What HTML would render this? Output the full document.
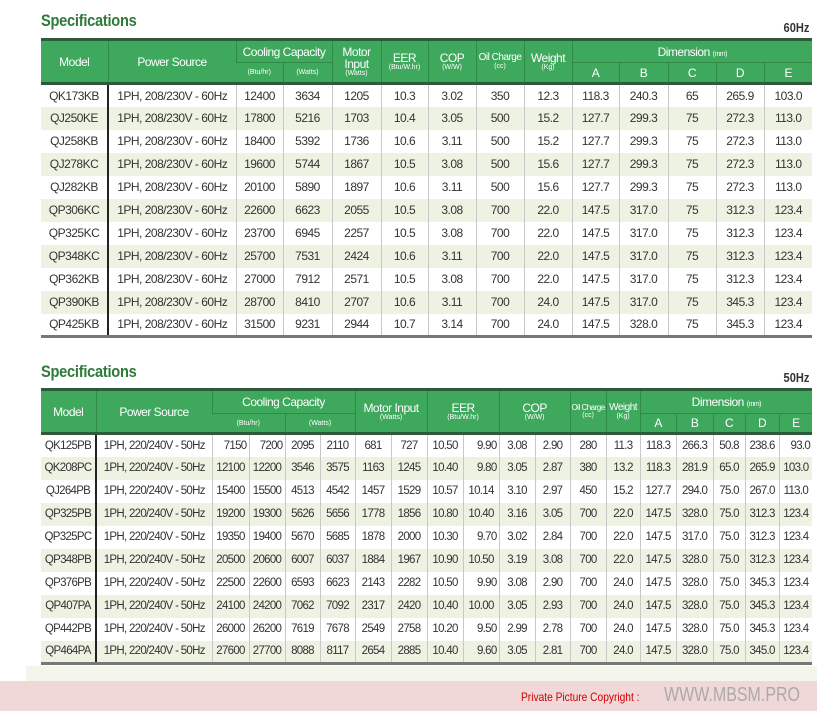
<!DOCTYPE html>
<html><head><meta charset="utf-8"><style>
*{margin:0;padding:0;box-sizing:border-box}
body{width:817px;height:711px;background:#fff;position:relative;overflow:hidden;font-family:"Liberation Sans",sans-serif;color:#333}
.title{position:absolute;left:41px;font:bold 17px "Liberation Sans",sans-serif;color:#2d7a3a;transform:scaleX(0.86);transform-origin:left top;letter-spacing:-0.3px}
.hz{position:absolute;right:8px;font:bold 13px "Liberation Sans",sans-serif;color:#333;transform:scaleX(0.85);transform-origin:right top}
table{position:absolute;left:41px;border-collapse:collapse;table-layout:fixed;width:771px}
th{background:#3ea85c;color:#fff;font-weight:normal;font-size:12px;letter-spacing:-0.5px;border-left:1px solid #2f8a48;text-align:center;line-height:1.0;white-space:nowrap;overflow:hidden;padding:0}
th small{font-size:7px;display:block;letter-spacing:0}
thead tr:first-child th{border-top:3px solid #2e5a3c}
tbody tr:first-child td{border-top:3px solid #2e5a3c}
td{height:23px;font-size:12px;letter-spacing:-0.5px;text-align:center;border-left:1px solid #c8c8c8;white-space:nowrap;overflow:hidden}
td:first-child,th:first-child{border-left:none}
td:nth-child(2){border-left:2px solid #222}
tbody tr:nth-child(even) td{background:#eef2e2}
tbody tr:last-child td{border-bottom:3px solid #777}
.sub th{border-top:1px solid #2f8a48}
#t2 td{font-size:11.5px;letter-spacing:-0.7px}
#t2 td.r{text-align:right;padding-right:2px}
</style></head><body>
<div class="title" style="top:11px">Specifications</div>
<div class="hz" style="top:20px">60Hz</div>
<table id="t1" style="top:38px">
<colgroup><col style="width:67px"><col style="width:128px"><col style="width:47px"><col style="width:49px"><col style="width:49px"><col style="width:47px"><col style="width:48px"><col style="width:48px"><col style="width:48px"><col style="width:47px"><col style="width:49px"><col style="width:48px"><col style="width:48px"><col style="width:48px"></colgroup>
<thead>
<tr style="height:23px"><th rowspan="2">Model</th><th rowspan="2">Power Source</th><th colspan="2">Cooling Capacity</th><th rowspan="2">Motor<br>Input<small>(Watts)</small></th><th rowspan="2">EER<small>(Btu/W.hr)</small></th><th rowspan="2">COP<small>(W/W)</small></th><th rowspan="2" style="font-size:10px">Oil Charge<small>(cc)</small></th><th rowspan="2">Weight<small>(Kg)</small></th><th colspan="5">Dimension <span style="font-size:7px">(mm)</span></th></tr>
<tr class="sub" style="height:21px"><th><small>(Btu/hr)</small></th><th><small>(Watts)</small></th><th>A</th><th>B</th><th>C</th><th>D</th><th>E</th></tr>
</thead>
<tbody>
<tr><td>QK173KB</td><td>1PH, 208/230V - 60Hz</td><td>12400</td><td>3634</td><td>1205</td><td>10.3</td><td>3.02</td><td>350</td><td>12.3</td><td>118.3</td><td>240.3</td><td>65</td><td>265.9</td><td>103.0</td></tr>
<tr><td>QJ250KE</td><td>1PH, 208/230V - 60Hz</td><td>17800</td><td>5216</td><td>1703</td><td>10.4</td><td>3.05</td><td>500</td><td>15.2</td><td>127.7</td><td>299.3</td><td>75</td><td>272.3</td><td>113.0</td></tr>
<tr><td>QJ258KB</td><td>1PH, 208/230V - 60Hz</td><td>18400</td><td>5392</td><td>1736</td><td>10.6</td><td>3.11</td><td>500</td><td>15.2</td><td>127.7</td><td>299.3</td><td>75</td><td>272.3</td><td>113.0</td></tr>
<tr><td>QJ278KC</td><td>1PH, 208/230V - 60Hz</td><td>19600</td><td>5744</td><td>1867</td><td>10.5</td><td>3.08</td><td>500</td><td>15.6</td><td>127.7</td><td>299.3</td><td>75</td><td>272.3</td><td>113.0</td></tr>
<tr><td>QJ282KB</td><td>1PH, 208/230V - 60Hz</td><td>20100</td><td>5890</td><td>1897</td><td>10.6</td><td>3.11</td><td>500</td><td>15.6</td><td>127.7</td><td>299.3</td><td>75</td><td>272.3</td><td>113.0</td></tr>
<tr><td>QP306KC</td><td>1PH, 208/230V - 60Hz</td><td>22600</td><td>6623</td><td>2055</td><td>10.5</td><td>3.08</td><td>700</td><td>22.0</td><td>147.5</td><td>317.0</td><td>75</td><td>312.3</td><td>123.4</td></tr>
<tr><td>QP325KC</td><td>1PH, 208/230V - 60Hz</td><td>23700</td><td>6945</td><td>2257</td><td>10.5</td><td>3.08</td><td>700</td><td>22.0</td><td>147.5</td><td>317.0</td><td>75</td><td>312.3</td><td>123.4</td></tr>
<tr><td>QP348KC</td><td>1PH, 208/230V - 60Hz</td><td>25700</td><td>7531</td><td>2424</td><td>10.6</td><td>3.11</td><td>700</td><td>22.0</td><td>147.5</td><td>317.0</td><td>75</td><td>312.3</td><td>123.4</td></tr>
<tr><td>QP362KB</td><td>1PH, 208/230V - 60Hz</td><td>27000</td><td>7912</td><td>2571</td><td>10.5</td><td>3.08</td><td>700</td><td>22.0</td><td>147.5</td><td>317.0</td><td>75</td><td>312.3</td><td>123.4</td></tr>
<tr><td>QP390KB</td><td>1PH, 208/230V - 60Hz</td><td>28700</td><td>8410</td><td>2707</td><td>10.6</td><td>3.11</td><td>700</td><td>24.0</td><td>147.5</td><td>317.0</td><td>75</td><td>345.3</td><td>123.4</td></tr>
<tr><td>QP425KB</td><td>1PH, 208/230V - 60Hz</td><td>31500</td><td>9231</td><td>2944</td><td>10.7</td><td>3.14</td><td>700</td><td>24.0</td><td>147.5</td><td>328.0</td><td>75</td><td>345.3</td><td>123.4</td></tr>
</tbody></table>

<div class="title" style="top:362px">Specifications</div>
<div class="hz" style="top:370px">50Hz</div>
<table id="t2" style="top:388px">
<colgroup><col style="width:55px"><col style="width:116px"><col style="width:37px"><col style="width:36px"><col style="width:35px"><col style="width:35px"><col style="width:36px"><col style="width:36px"><col style="width:36px"><col style="width:36px"><col style="width:36px"><col style="width:35px"><col style="width:36px"><col style="width:34px"><col style="width:36px"><col style="width:37px"><col style="width:32px"><col style="width:34px"><col style="width:33px"></colgroup>
<thead>
<tr style="height:24px"><th rowspan="2">Model</th><th rowspan="2">Power Source</th><th colspan="4">Cooling Capacity</th><th colspan="2" rowspan="2">Motor Input<small>(Watts)</small></th><th colspan="2" rowspan="2">EER<small>(Btu/W.hr)</small></th><th colspan="2" rowspan="2">COP<small>(W/W)</small></th><th rowspan="2" style="font-size:8px">Oil Charge<small>(cc)</small></th><th rowspan="2" style="font-size:10px">Weight<small>(Kg)</small></th><th colspan="5">Dimension <span style="font-size:7px">(mm)</span></th></tr>
<tr class="sub" style="height:20px"><th colspan="2"><small>(Btu/hr)</small></th><th colspan="2"><small>(Watts)</small></th><th>A</th><th>B</th><th>C</th><th>D</th><th>E</th></tr>
</thead>
<tbody>
<tr><td>QK125PB</td><td>1PH, 220/240V - 50Hz</td><td class="r">7150</td><td class="r">7200</td><td>2095</td><td>2110</td><td>681</td><td>727</td><td>10.50</td><td class="r">9.90</td><td>3.08</td><td>2.90</td><td>280</td><td>11.3</td><td>118.3</td><td>266.3</td><td>50.8</td><td>238.6</td><td class="r">93.0</td></tr>
<tr><td>QK208PC</td><td>1PH, 220/240V - 50Hz</td><td>12100</td><td>12200</td><td>3546</td><td>3575</td><td>1163</td><td>1245</td><td>10.40</td><td class="r">9.80</td><td>3.05</td><td>2.87</td><td>380</td><td>13.2</td><td>118.3</td><td>281.9</td><td>65.0</td><td>265.9</td><td>103.0</td></tr>
<tr><td>QJ264PB</td><td>1PH, 220/240V - 50Hz</td><td>15400</td><td>15500</td><td>4513</td><td>4542</td><td>1457</td><td>1529</td><td>10.57</td><td>10.14</td><td>3.10</td><td>2.97</td><td>450</td><td>15.2</td><td>127.7</td><td>294.0</td><td>75.0</td><td>267.0</td><td>113.0</td></tr>
<tr><td>QP325PB</td><td>1PH, 220/240V - 50Hz</td><td>19200</td><td>19300</td><td>5626</td><td>5656</td><td>1778</td><td>1856</td><td>10.80</td><td>10.40</td><td>3.16</td><td>3.05</td><td>700</td><td>22.0</td><td>147.5</td><td>328.0</td><td>75.0</td><td>312.3</td><td>123.4</td></tr>
<tr><td>QP325PC</td><td>1PH, 220/240V - 50Hz</td><td>19350</td><td>19400</td><td>5670</td><td>5685</td><td>1878</td><td>2000</td><td>10.30</td><td class="r">9.70</td><td>3.02</td><td>2.84</td><td>700</td><td>22.0</td><td>147.5</td><td>317.0</td><td>75.0</td><td>312.3</td><td>123.4</td></tr>
<tr><td>QP348PB</td><td>1PH, 220/240V - 50Hz</td><td>20500</td><td>20600</td><td>6007</td><td>6037</td><td>1884</td><td>1967</td><td>10.90</td><td>10.50</td><td>3.19</td><td>3.08</td><td>700</td><td>22.0</td><td>147.5</td><td>328.0</td><td>75.0</td><td>312.3</td><td>123.4</td></tr>
<tr><td>QP376PB</td><td>1PH, 220/240V - 50Hz</td><td>22500</td><td>22600</td><td>6593</td><td>6623</td><td>2143</td><td>2282</td><td>10.50</td><td class="r">9.90</td><td>3.08</td><td>2.90</td><td>700</td><td>24.0</td><td>147.5</td><td>328.0</td><td>75.0</td><td>345.3</td><td>123.4</td></tr>
<tr><td>QP407PA</td><td>1PH, 220/240V - 50Hz</td><td>24100</td><td>24200</td><td>7062</td><td>7092</td><td>2317</td><td>2420</td><td>10.40</td><td>10.00</td><td>3.05</td><td>2.93</td><td>700</td><td>24.0</td><td>147.5</td><td>328.0</td><td>75.0</td><td>345.3</td><td>123.4</td></tr>
<tr><td>QP442PB</td><td>1PH, 220/240V - 50Hz</td><td>26000</td><td>26200</td><td>7619</td><td>7678</td><td>2549</td><td>2758</td><td>10.20</td><td class="r">9.50</td><td>2.99</td><td>2.78</td><td>700</td><td>24.0</td><td>147.5</td><td>328.0</td><td>75.0</td><td>345.3</td><td>123.4</td></tr>
<tr><td>QP464PA</td><td>1PH, 220/240V - 50Hz</td><td>27600</td><td>27700</td><td>8088</td><td>8117</td><td>2654</td><td>2885</td><td>10.40</td><td class="r">9.60</td><td>3.05</td><td>2.81</td><td>700</td><td>24.0</td><td>147.5</td><td>328.0</td><td>75.0</td><td>345.0</td><td>123.4</td></tr>
</tbody></table>
<div style="position:absolute;left:26px;top:666px;width:795px;height:15px;background:#f3f6ea"></div>
<div style="position:absolute;left:0;top:681px;width:817px;height:30px;background:#f0d8d8"></div>
<div style="position:absolute;left:521px;top:690px;font-size:12px;color:#d00000;transform:scaleX(0.85);transform-origin:left top;white-space:nowrap">Private Picture Copyright :</div>
<div style="position:absolute;left:664px;top:684px;font-size:20px;color:#aaa;transform:scaleX(0.8);transform-origin:left top;white-space:nowrap">WWW.MBSM.PRO</div>
</body></html>
